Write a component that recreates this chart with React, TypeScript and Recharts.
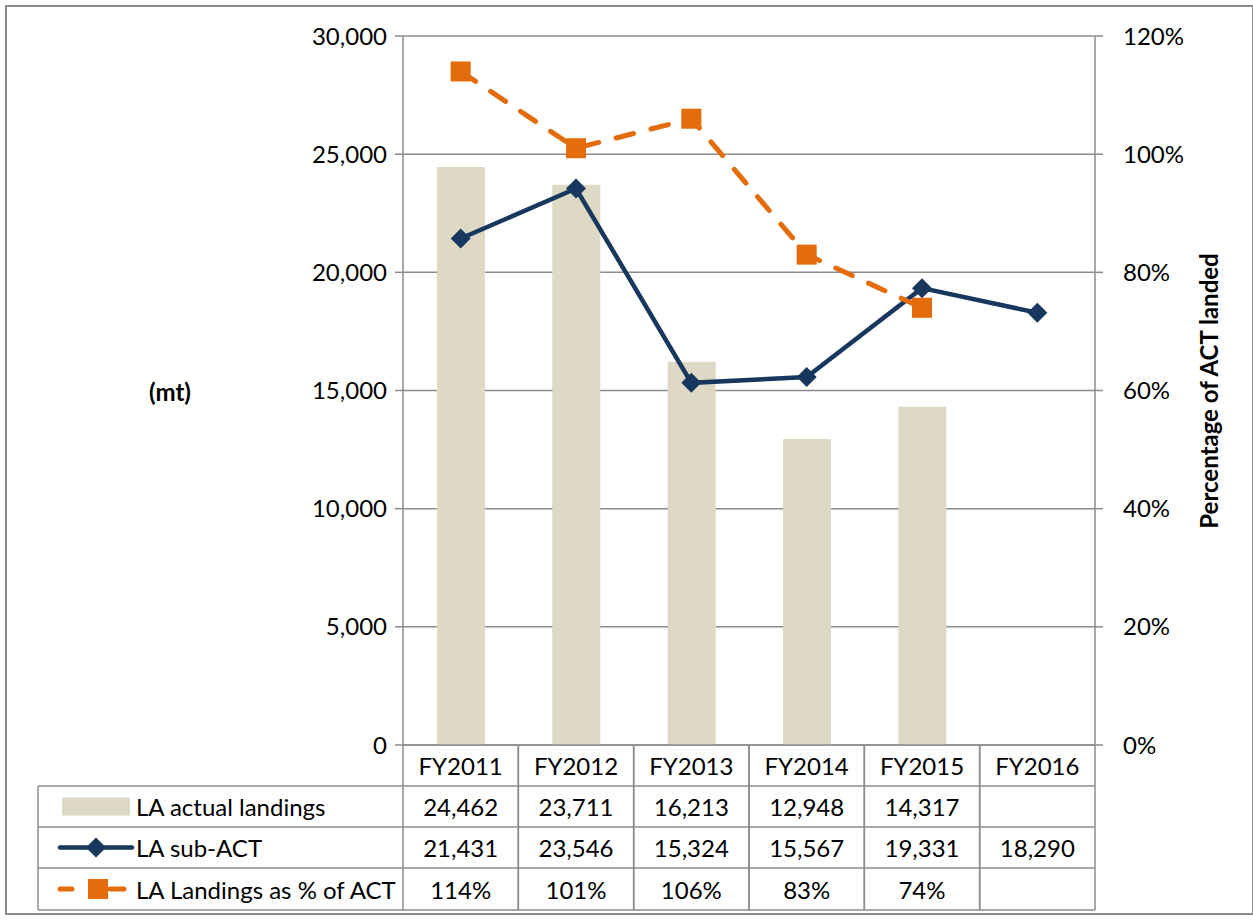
import React from 'react';
import { ComposedChart, Bar, Line, XAxis, YAxis, CartesianGrid } from 'recharts';

const categories = ['FY2011', 'FY2012', 'FY2013', 'FY2014', 'FY2015', 'FY2016'];
const actualLandings: (number | null)[] = [24462, 23711, 16213, 12948, 14317, null];
const subAct: (number | null)[] = [21431, 23546, 15324, 15567, 19331, 18290];
const pctOfAct: (number | null)[] = [114, 101, 106, 83, 74, null];
const leftTicks = [0, 5000, 10000, 15000, 20000, 25000, 30000];
const rightTicks = [0, 20, 40, 60, 80, 100, 120];
const seriesNames = ['LA actual landings', 'LA sub-ACT', 'LA Landings as % of ACT'];

const data = categories.map((c, i) => ({
  cat: c,
  actual: actualLandings[i],
  sub: subAct[i],
  pct: pctOfAct[i],
}));

const W = 1253;
const H = 921;
const PLOT_LEFT = 403;
const PLOT_RIGHT = 1095;
const PLOT_TOP = 36;
const PLOT_BOTTOM = 745;
const LEFT_AXIS_W = 100;
const RIGHT_AXIS_W = 100;
const X_AXIS_H = 30;
const ROWS = [745, 786, 827, 868, 910];
const LEGEND_LEFT = 38;
const FONT = 'Lato, "Open Sans", sans-serif';
const FS = 24;
const GRID = '#8c8c8c';
const BAR_C = '#DDD9C4';
const NAVY = '#17375E';
const ORANGE = '#E46C0A';

const fmt = (v: number | null) => (v == null ? '' : v.toLocaleString('en-US'));
const fmtPct = (v: number | null) => (v == null ? '' : `${v}%`);

const Diamond = (cx: number, cy: number, r: number) => (
  <path d={`M${cx},${cy - r}L${cx + r},${cy}L${cx},${cy + r}L${cx - r},${cy}Z`} fill={NAVY} />
);

const DiamondDot = (props: any) => {
  const { cx, cy, index } = props;
  if (cx == null || cy == null || props.value == null) return <g key={`d${index}`} />;
  return <g key={`d${index}`}>{Diamond(cx, cy, 10)}</g>;
};

const SquareDot = (props: any) => {
  const { cx, cy, index } = props;
  if (cx == null || cy == null || props.value == null) return <g key={`s${index}`} />;
  return <rect key={`s${index}`} x={cx - 10} y={cy - 10} width={20} height={20} fill={ORANGE} />;
};

const bw = (PLOT_RIGHT - PLOT_LEFT) / categories.length;

const TableTick = (props: any) => {
  const { x, payload } = props;
  const i = payload.index;
  const l = x - bw / 2;
  const r = x + bw / 2;
  const rowVals = [fmt(actualLandings[i]), fmt(subAct[i]), fmtPct(pctOfAct[i])];
  const mid = (k: number) => (ROWS[k] + ROWS[k + 1]) / 2;
  return (
    <g>
      <line x1={l} y1={ROWS[0]} x2={l} y2={ROWS[4]} stroke={GRID} strokeWidth={1.5} />
      <line x1={r} y1={ROWS[0]} x2={r} y2={ROWS[4]} stroke={GRID} strokeWidth={1.5} />
      {ROWS.slice(1).map((yy, k) => (
        <line key={k} x1={l} y1={yy} x2={r} y2={yy} stroke={GRID} strokeWidth={1.5} />
      ))}
      <text x={x} y={mid(0)} textAnchor="middle" dominantBaseline="central" fontSize={FS} fill="#000" fontFamily={FONT}>
        {payload.value}
      </text>
      {rowVals.map((v, k) => (
        <text key={k} x={x} y={mid(k + 1)} textAnchor="middle" dominantBaseline="central" fontSize={FS} fill="#000" fontFamily={FONT}>
          {v}
        </text>
      ))}
      {i === 0 && (
        <g>
          <line x1={LEGEND_LEFT} y1={ROWS[1]} x2={LEGEND_LEFT} y2={ROWS[4]} stroke={GRID} strokeWidth={1.5} />
          {ROWS.slice(1).map((yy, k) => (
            <line key={k} x1={LEGEND_LEFT} y1={yy} x2={l} y2={yy} stroke={GRID} strokeWidth={1.5} />
          ))}
          <rect x={62} y={mid(1) - 9} width={68} height={18} fill={BAR_C} />
          <line x1={60} y1={mid(2)} x2={132} y2={mid(2)} stroke={NAVY} strokeWidth={4.5} strokeLinecap="round" />
          {Diamond(96, mid(2), 10)}
          <line x1={60} y1={mid(3)} x2={72} y2={mid(3)} stroke={ORANGE} strokeWidth={5} strokeLinecap="round" />
          <line x1={110} y1={mid(3)} x2={124} y2={mid(3)} stroke={ORANGE} strokeWidth={5} strokeLinecap="round" />
          <rect x={88} y={mid(3) - 10} width={20} height={20} fill={ORANGE} />
          {seriesNames.map((n, k) => (
            <text key={n} x={136} y={mid(k + 1)} dominantBaseline="central" fontSize={FS} fill="#000" fontFamily={FONT}>
              {n}
            </text>
          ))}
        </g>
      )}
    </g>
  );
};

export default function App() {
  return (
    <div style={{ position: 'absolute', left: 0, top: 0, width: W, height: H, background: '#fff', fontFamily: FONT }}>
      <ComposedChart
        width={W}
        height={H}
        data={data}
        margin={{
          top: PLOT_TOP,
          left: PLOT_LEFT - LEFT_AXIS_W,
          right: W - PLOT_RIGHT - RIGHT_AXIS_W,
          bottom: H - PLOT_BOTTOM - X_AXIS_H,
        }}
      >
        <CartesianGrid vertical={false} stroke={GRID} strokeWidth={1.5} yAxisId="l" />
        <XAxis
          dataKey="cat"
          height={X_AXIS_H}
          tickLine={false}
          tickSize={0}
          axisLine={{ stroke: GRID, strokeWidth: 1.5 }}
          tick={<TableTick />}
          interval={0}
        />
        <YAxis
          yAxisId="l"
          orientation="left"
          width={LEFT_AXIS_W}
          domain={[0, 30000]}
          ticks={leftTicks}
          tickFormatter={(v: number) => v.toLocaleString('en-US')}
          tick={{ fill: '#000', fontSize: FS, fontFamily: FONT }}
          tickLine={{ stroke: GRID, strokeWidth: 1.5 }}
          tickSize={8}
          tickMargin={8}
          axisLine={{ stroke: GRID, strokeWidth: 1.5 }}
        />
        <YAxis
          yAxisId="r"
          orientation="right"
          width={RIGHT_AXIS_W}
          domain={[0, 120]}
          ticks={rightTicks}
          tickFormatter={(v: number) => `${v}%`}
          tick={{ fill: '#000', fontSize: FS, fontFamily: FONT }}
          tickLine={{ stroke: GRID, strokeWidth: 1.5 }}
          tickSize={8}
          tickMargin={20}
          axisLine={{ stroke: GRID, strokeWidth: 1.5 }}
        />
        <Bar yAxisId="l" dataKey="actual" fill={BAR_C} barSize={48} isAnimationActive={false} />
        <Line
          yAxisId="l"
          dataKey="sub"
          stroke={NAVY}
          strokeWidth={4.5}
          dot={DiamondDot}
          activeDot={false}
          isAnimationActive={false}
        />
        <Line
          yAxisId="r"
          dataKey="pct"
          stroke={ORANGE}
          strokeWidth={5}
          strokeDasharray="18 18"
          strokeLinecap="round"
          dot={SquareDot}
          activeDot={false}
          isAnimationActive={false}
        />
      </ComposedChart>
      <svg width={W} height={H} style={{ position: 'absolute', left: 0, top: 0, pointerEvents: 'none' }}>
        <rect x={6} y={6} width={W - 6} height={908} fill="none" stroke={GRID} strokeWidth={2} />
        <text x={170} y={391} textAnchor="middle" dominantBaseline="central" fontSize={FS} fontWeight="bold" fontFamily={FONT}>
          (mt)
        </text>
        <text
          x={1208}
          y={391}
          textAnchor="middle"
          dominantBaseline="central"
          fontSize={FS}
          fontWeight="bold"
          fontFamily={FONT}
          transform="rotate(-90 1208 391)"
        >
          Percentage of ACT landed
        </text>
      </svg>
    </div>
  );
}
